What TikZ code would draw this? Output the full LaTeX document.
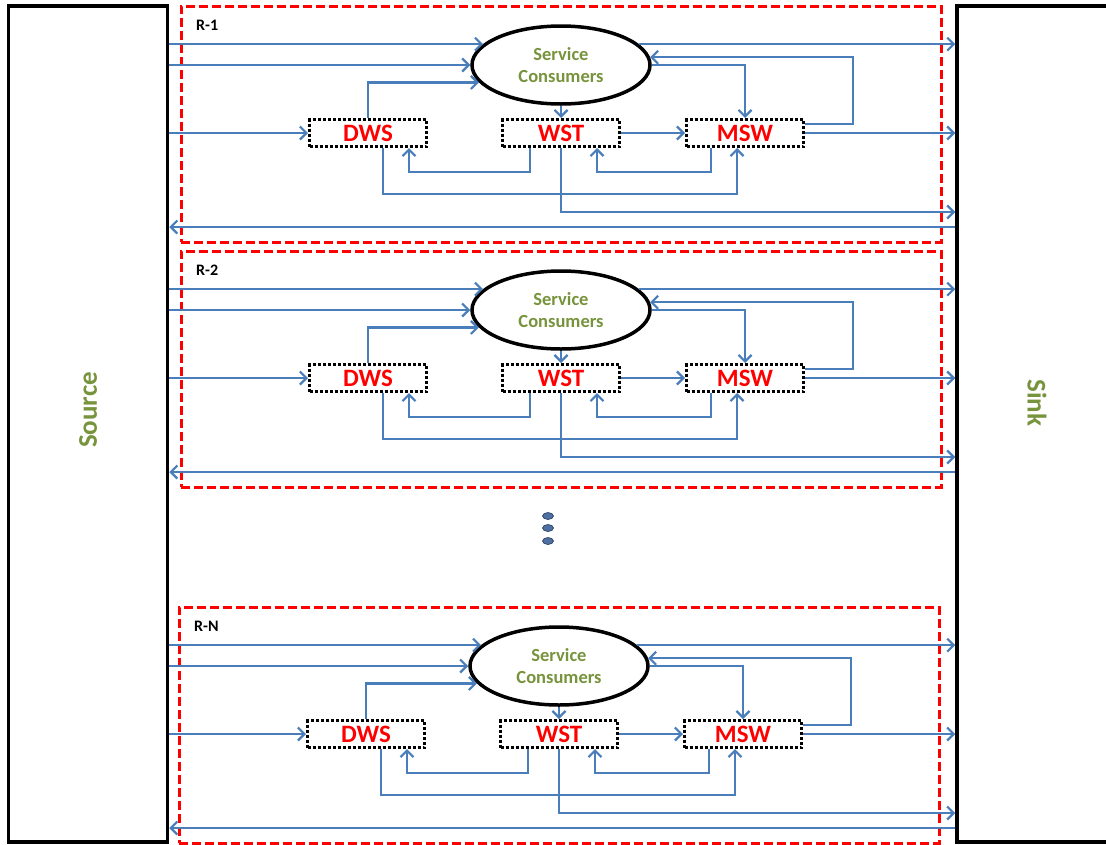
\documentclass[tikz,border=0pt]{standalone}
\usepackage{fontspec}
\setmainfont{Carlito}
\usetikzlibrary{arrows.meta,shapes.geometric}
\definecolor{lnblue}{HTML}{4A7EBB}
\definecolor{sgreen}{HTML}{77933C}
\definecolor{dotblue}{HTML}{4F6FA0}
\definecolor{dotdark}{HTML}{1F3A60}
\tikzset{
 arr/.style={draw=lnblue, line width=2.2pt, -{Straight Barb[length=6.5pt,width=13pt]}},
 sidebox/.style={draw=black, line width=3.5pt, rectangle, inner sep=0pt},
 sidelbl/.style={text=sgreen, inner sep=0pt, font=\bfseries\fontsize{27}{30}\selectfont},
 regbox/.style={draw=red, line width=3pt, dash pattern=on 9pt off 4pt, rectangle, minimum width=760pt, minimum height=236pt, inner sep=0pt},
 reglbl/.style={font=\bfseries\fontsize{16}{18}\selectfont, anchor=west, inner sep=0pt},
 cons/.style={ellipse, draw=black, line width=3.5pt, minimum width=178pt, minimum height=78pt, inner sep=0pt, text=sgreen, align=center, font=\bfseries\fontsize{18.5}{22}\selectfont},
 svcbox/.style={rectangle, draw=black, line width=3pt, dash pattern=on 3pt off 2pt, minimum width=117pt, minimum height=27pt, inner sep=0pt, text=red, font=\bfseries\fontsize{25}{28}\selectfont},
}
\newcommand\myregion[4]{%
\begin{scope}[shift={(#2,#3)}]
 \node[regbox] (#1box) at (561,124) {};
 \node[reglbl] (#1lbl) at (196,25) {#4};
 \node[cons] (#1sc) at (561,65) {Service\\Consumers};
 \node[svcbox] (#1dws) at (368,133) {DWS};
 \node[svcbox] (#1wst) at (561,133) {WST};
 \node[svcbox] (#1msw) at (745,133) {MSW};
 \coordinate (#1y3) at (561,212);
 \coordinate (#1y4) at (561,227);
 \draw[arr] (src.east |- #1sc.165.3) -- (#1sc.165.3);
 \draw[arr] (src.east |- #1sc.west) -- (#1sc.west);
 \draw[arr] (#1dws.north) |- (#1sc.192.8);
 \draw[arr] (src.east |- #1dws.west) -- (#1dws.west);
 \draw[arr] (#1sc.south) -- (#1wst.north);
 \draw[arr] ([xshift=-31pt]#1wst.south) -- ++(0,24) -| ([xshift=41pt]#1dws.south);
 \draw[arr] ([xshift=15pt]#1dws.south) -- ++(0,46) -| ([xshift=-8pt]#1msw.south);
 \draw[arr] (#1wst.south) -- (#1y3) -- (snk.west |- #1y3);
 \draw[arr] (snk.west |- #1y4) -- (src.east |- #1y4);
 \draw[arr] (#1wst.east) -- (#1msw.west);
 \draw[arr] ([xshift=-34pt]#1msw.south) -- ++(0,24) -| ([xshift=36pt]#1wst.south);
 \draw[arr] (#1sc.east) -| (#1msw.north);
 \draw[arr] ([yshift=9pt]#1msw.east) -- ++(48,0) |- (#1sc.5.2);
 \draw[arr] (#1sc.15.6) -- (snk.west |- #1sc.15.6);
 \draw[arr] (#1msw.east) -- (snk.west |- #1msw.east);
\end{scope}}
\begin{document}
\begin{tikzpicture}[x=1pt,y=-1pt]
\useasboundingbox (0,0) rectangle (1106,844);
\node[sidebox, minimum width=159pt, minimum height=836pt] (src) at (88,424) {};
\node[sidebox, minimum width=160pt, minimum height=836pt] (snk) at (1037,424) {};
\node[sidelbl, rotate=90] (srclbl) at (88,410) {Source};
\node[sidelbl, rotate=-90] (snklbl) at (1037,403) {Sink};
\myregion{a}{0}{0}{R-1}
\myregion{b}{0}{245}{R-2}
\myregion{n}{-2}{601}{R-N}
\foreach \yy in {516,528,541}
  \fill[dotblue, draw=dotdark, line width=0.6pt] (548,\yy) ellipse [x radius=5.5pt, y radius=3.5pt];
\end{tikzpicture}
\end{document}
